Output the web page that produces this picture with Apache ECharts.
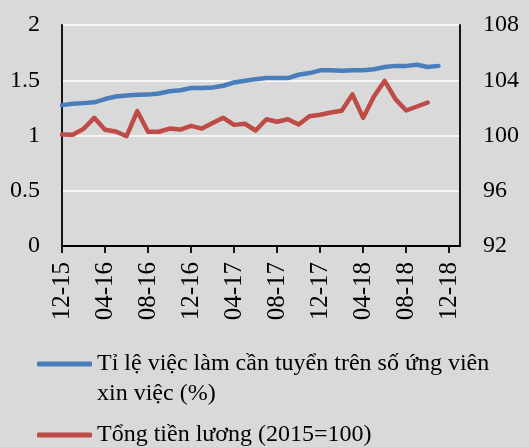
<!DOCTYPE html>
<html>
<head>
<meta charset="utf-8">
<script src="https://cdn.jsdelivr.net/npm/echarts@6/dist/echarts.min.js"></script>
<style>
  html, body { margin: 0; padding: 0; background: #d9d9d9; }
  #chart { width: 529px; height: 447px; }
</style>
</head>
<body>
<div id="chart"></div>
<script>
// months 12-15 .. 01-19
var months = ['12-15', '01-16', '02-16', '03-16', '04-16', '05-16', '06-16', '07-16', '08-16', '09-16',
  '10-16', '11-16', '12-16', '01-17', '02-17', '03-17', '04-17', '05-17', '06-17', '07-17', '08-17',
  '09-17', '10-17', '11-17', '12-17', '01-18', '02-18', '03-18', '04-18', '05-18', '06-18', '07-18',
  '08-18', '09-18', '10-18', '11-18', '12-18', '01-19']

var jobRatio = [1.275, 1.287, 1.293, 1.30, 1.33, 1.353, 1.363, 1.368, 1.37, 1.38, 1.40, 1.41, 1.43,
  1.43, 1.435, 1.45, 1.48, 1.495, 1.51, 1.52, 1.52, 1.52, 1.55, 1.565, 1.59, 1.59, 1.585, 1.59, 1.59,
  1.60, 1.62, 1.63, 1.63, 1.64, 1.62, 1.63]

var wages = [100.07, 100.05, 100.48, 101.28, 100.41, 100.29, 99.95, 101.76, 100.27, 100.27, 100.5,
  100.43, 100.7, 100.5, 100.9, 101.28, 100.77, 100.85, 100.36, 101.18, 101.0, 101.18, 100.8, 101.4,
  101.5, 101.67, 101.79, 102.97, 101.28, 102.83, 103.96, 102.63, 101.81, 102.1, 102.39]

var nameRatio = 'Tỉ lệ việc làm cần tuyển trên số ứng viên xin việc (%)'
var nameWages = 'Tổng tiền lương (2015=100)'

var font = 'Liberation Serif'
var chart = echarts.init(document.getElementById('chart'))

chart.setOption({
  backgroundColor: '#d9d9d9',
  animation: false,
  grid: { left: 62, right: 69, top: 25, bottom: 201 },
  legend: [
    {
      data: [nameRatio],
      left: 37,
      top: 319,
      padding: 0,
      icon: 'roundRect',
      itemWidth: 55,
      itemHeight: 5,
      // leading blank line keeps the icon level with the first text line
      formatter: function() {
        return ' \nTỉ lệ việc làm cần tuyển trên số ứng viên\nxin việc (%)'
      },
      textStyle: { fontFamily: font, fontSize: 24, color: '#000', lineHeight: 30 }
    },
    {
      data: [nameWages],
      left: 37,
      top: 420,
      padding: 0,
      icon: 'roundRect',
      itemWidth: 55,
      itemHeight: 5,
      textStyle: { fontFamily: font, fontSize: 24, color: '#000', lineHeight: 30 }
    }
  ],
  xAxis: {
    type: 'category',
    data: months,
    boundaryGap: false,
    axisLine: { lineStyle: { color: '#000', width: 1.8 } },
    axisTick: { interval: 3, length: 7, lineStyle: { color: '#000', width: 1.8 } },
    axisLabel: { interval: 3, rotate: 90, margin: 16, color: '#000', fontFamily: font, fontSize: 25 },
    splitLine: { show: false }
  },
  yAxis: [
    {
      type: 'value',
      min: 0,
      max: 2,
      interval: 0.5,
      position: 'left',
      axisLine: { show: true, lineStyle: { color: '#000', width: 1.8 } },
      axisTick: { show: false },
      axisLabel: { margin: 22, color: '#000', fontFamily: font, fontSize: 24 },
      splitLine: { lineStyle: { color: '#ffffff', width: 1.6 } }
    },
    {
      type: 'value',
      min: 92,
      max: 108,
      interval: 4,
      position: 'right',
      axisLine: { show: true, lineStyle: { color: '#000', width: 1.8 } },
      axisTick: { show: false },
      axisLabel: { margin: 23, color: '#000', fontFamily: font, fontSize: 24 },
      splitLine: { show: false }
    }
  ],
  series: [
    {
      name: nameRatio,
      type: 'line',
      yAxisIndex: 0,
      data: jobRatio,
      showSymbol: false,
      symbol: 'none',
      itemStyle: { color: '#4a7ebb' },
      lineStyle: { color: '#4a7ebb', width: 4.5, cap: 'round', join: 'round' }
    },
    {
      name: nameWages,
      type: 'line',
      yAxisIndex: 1,
      data: wages,
      showSymbol: false,
      symbol: 'none',
      itemStyle: { color: '#be4b48' },
      lineStyle: { color: '#be4b48', width: 4.5, cap: 'round', join: 'round' }
    }
  ]
})
</script>
</body>
</html>
